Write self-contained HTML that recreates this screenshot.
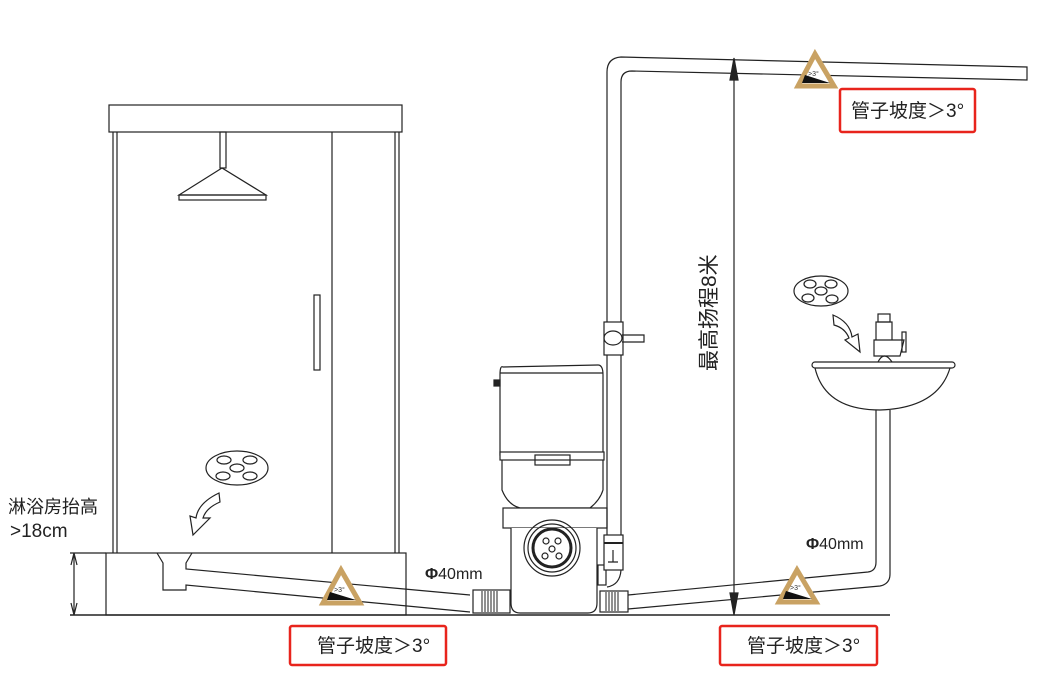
<!DOCTYPE html>
<html><head><meta charset="utf-8"><style>
html,body{margin:0;padding:0;background:#fff}
svg{display:block}
text{font-family:"Liberation Sans","Noto Sans CJK SC",sans-serif}
</style></head><body>
<svg width="1051" height="681" viewBox="0 0 1051 681" xmlns="http://www.w3.org/2000/svg">
<g fill="none" stroke="#222" stroke-width="1.2">
<rect x="109" y="105" width="293" height="27" fill="#fff"/>
<line x1="113" y1="132" x2="113" y2="553"/><line x1="117" y1="132" x2="117" y2="553"/>
<line x1="332" y1="132" x2="332" y2="553"/>
<line x1="395" y1="132" x2="395" y2="553"/><line x1="399" y1="132" x2="399" y2="553"/>
<rect x="220" y="132" width="6" height="36"/>
<path d="M222 168 L179 195 L266 195 Z"/>
<rect x="179" y="195" width="87" height="5"/>
<rect x="314" y="295" width="6" height="75"/>
<ellipse cx="237" cy="468" rx="31" ry="17"/>
<ellipse cx="224" cy="460" rx="7" ry="4"/><ellipse cx="250" cy="460" rx="7" ry="4"/>
<ellipse cx="237" cy="468" rx="7" ry="4"/><ellipse cx="223" cy="476" rx="7" ry="4"/><ellipse cx="250" cy="476" rx="7" ry="4"/>
<path d="M219 493 Q198 503 196 518 L190 516 L193 535 L210 518 L203 518 Q206 508 220 502 Z"/>
<rect x="106" y="553" width="300" height="62"/>
<path d="M157 553 L163 563 L163 590 L186 590 L186 585 L470 612"/>
<path d="M192 553 L186 563 L186 569 L470 595"/>
<line x1="70" y1="553" x2="106" y2="553"/>
<line x1="74" y1="556" x2="74" y2="612"/>
<path d="M74 553 L71 565 M74 553 L77 565 M74 615 L71 603 M74 615 L77 603"/>
<line x1="70" y1="615" x2="890" y2="615" stroke-width="1.5"/>
<rect x="473" y="590" width="37" height="23" fill="#fff"/>
<g stroke-width="1"><line x1="482" y1="591" x2="482" y2="612"/><line x1="485" y1="591" x2="485" y2="612"/><line x1="488" y1="591" x2="488" y2="612"/><line x1="491" y1="591" x2="491" y2="612"/><line x1="494" y1="591" x2="494" y2="612"/><line x1="497" y1="591" x2="497" y2="612"/></g>
<path d="M503 367 Q500 365 500 375 L500 455 L603 455 L603 375 Q603 365 598 365 Z" fill="#fff"/>
<line x1="500" y1="373" x2="603" y2="373"/>
<rect x="494" y="380" width="6" height="6" fill="#222"/>
<rect x="500" y="452" width="104" height="8" fill="#fff"/>
<rect x="535" y="455" width="35" height="10"/>
<path d="M502 460 L502 490 Q508 505 520 508 L590 508 Q600 500 603 490 L603 460"/>
<rect x="503" y="508" width="104" height="20" fill="#fff"/>
<path d="M511 528 L511 603 Q511 613 520 613 L588 613 Q597 613 597 603 L597 528" fill="#fff"/>
<circle cx="552" cy="548" r="28"/><circle cx="552" cy="548" r="24"/>
<circle cx="552" cy="548" r="19" stroke-width="3"/>
<circle cx="546" cy="541" r="3"/><circle cx="558" cy="541" r="3"/><circle cx="552" cy="549" r="3"/><circle cx="545" cy="556" r="3"/><circle cx="559" cy="556" r="3"/>
<rect x="598" y="565" width="8" height="20"/>
<path d="M607 560 L607 72 Q607 58 621 57 L1027 67 L1027 80 L632 71 Q621 71 621 82 L621 560"/>
<rect x="604" y="322" width="19" height="33" fill="#fff"/>
<ellipse cx="613" cy="338" rx="9" ry="7"/>
<path d="M622 335 L644 335 L644 342 L622 342"/>
<rect x="604" y="535" width="19" height="35" fill="#fff"/>
<line x1="604" y1="543" x2="623" y2="543" stroke-width="2"/>
<path d="M613 550 L613 562 M608 562 L618 562"/>
<path d="M621 570 Q620 585 607 587"/>
<rect x="600" y="591" width="28" height="21" fill="#fff"/>
<g stroke-width="1"><line x1="606" y1="592" x2="606" y2="611"/><line x1="609" y1="592" x2="609" y2="611"/><line x1="612" y1="592" x2="612" y2="611"/><line x1="615" y1="592" x2="615" y2="611"/><line x1="618" y1="592" x2="618" y2="611"/></g>
<path d="M628 595 L868 572 Q876 571 876 562 L876 410"/>
<path d="M628 609 L880 586 Q890 584 890 574 L890 410"/>
<line x1="734" y1="62" x2="734" y2="610"/>
<path d="M734 58 L730 80 L738 80 Z M734 615 L730 593 L738 593 Z" fill="#222"/>
<path d="M815 368 Q825 410 880 410 Q938 408 950 368"/>
<rect x="812" y="362" width="143" height="6" rx="3" fill="#fff"/>
<rect x="876" y="322" width="16" height="28" fill="#fff"/>
<rect x="878" y="314" width="12" height="8"/>
<path d="M874 340 L874 356 L900 356 L904 340 Z" fill="#fff"/>
<rect x="902" y="332" width="4" height="20"/>
<path d="M878 362 Q884 350 892 362"/>
<ellipse cx="821" cy="291" rx="27" ry="15"/>
<ellipse cx="810" cy="284" rx="6" ry="4"/><ellipse cx="831" cy="284" rx="6" ry="4"/><ellipse cx="821" cy="291" rx="6" ry="4"/><ellipse cx="808" cy="298" rx="6" ry="4"/><ellipse cx="832" cy="299" rx="6" ry="4"/>
<path d="M833 315 Q850 322 852 337 L858 334 L860 352 L845 340 L849 338 Q845 328 834 325 Z"/>
</g>
<g stroke="#c9a263" stroke-width="5" fill="#fff" stroke-linejoin="miter">
<path d="M341 570 L323 603 L360 603 Z"/>
<path d="M797 570 L779 602 L816 602 Z"/>
<path d="M815 54 L798 86 L834 86 Z"/>
</g>
<g fill="#111">
<path d="M327 600 L330 592 L356 600 Z"/>
<path d="M783 599 L786 591 L812 599 Z"/>
<path d="M802 83 L805 75 L830 83 Z"/>
</g>
<g font-size="7" fill="#333"><text x="334" y="592">&gt;3°</text><text x="790" y="590">&gt;3°</text><text x="808" y="76">&gt;3°</text></g>
<g fill="none" stroke="#e8241c" stroke-width="2.5">
<rect x="290" y="626" width="156" height="39" rx="2"/>
<rect x="720" y="626" width="157" height="39" rx="2"/>
<rect x="840" y="89" width="135" height="43" rx="2"/>
</g>
<g font-size="19" fill="#222">
<text x="317" y="652">管子坡度＞3°</text>
<text x="747" y="652">管子坡度＞3°</text>
<text x="851" y="117">管子坡度＞3°</text>
</g>
<g font-size="16" fill="#222">
<text x="8" y="513" font-size="18">淋浴房抬高</text>
<text x="10" y="537" font-size="19">&gt;18cm</text>
<text x="425" y="579"><tspan font-weight="bold">Φ</tspan>40mm</text>
<text x="806" y="549"><tspan font-weight="bold">Φ</tspan>40mm</text>
<text transform="translate(716,371) rotate(-90)" font-size="21">最高扬程8米</text>
</g>
</svg>
</body></html>
